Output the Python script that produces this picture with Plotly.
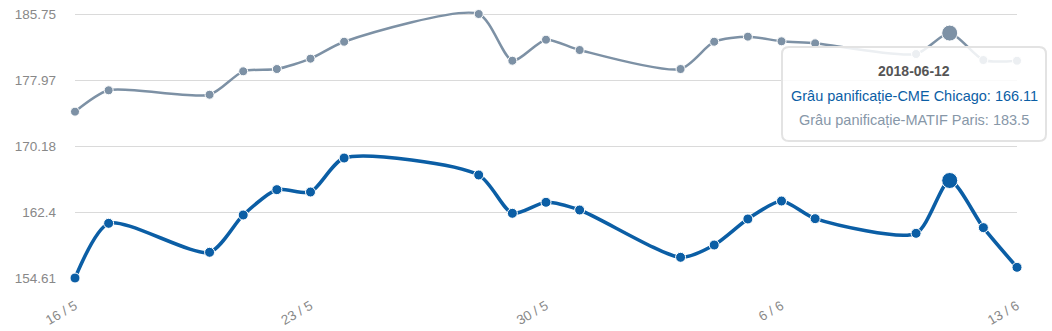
import plotly.graph_objects as go
import numpy as np

# ---- data ----
dates = ["2018-05-16", "2018-05-17", "2018-05-20", "2018-05-21", "2018-05-22",
         "2018-05-23", "2018-05-24", "2018-05-28", "2018-05-29", "2018-05-30",
         "2018-05-31", "2018-06-03", "2018-06-04", "2018-06-05", "2018-06-06",
         "2018-06-07", "2018-06-10", "2018-06-11", "2018-06-12", "2018-06-13"]
cme_chicago = [154.61, 161.06, 157.64, 162.04, 165.03, 164.75, 168.76, 166.76,
               162.24, 163.54, 162.63, 157.05, 158.50, 161.57, 163.69, 161.61,
               159.88, 166.11, 160.55, 155.87]
matif_paris = [174.23, 176.75, 176.23, 178.99, 179.26, 180.48, 182.48, 185.75,
               180.24, 182.72, 181.50, 179.26, 182.48, 183.08, 182.53, 182.29,
               181.03, 183.50, 180.32, 180.24]
series_names = ["Grâu panificație-CME Chicago", "Grâu panificație-MATIF Paris"]
hover_index = 17
hover_date_label = "2018-06-12"

BLUE = "#0b5ea5"
GREY = "#7d91a5"
FONT = "Arial, Liberation Sans, sans-serif"

W, H = 1052, 331
# gridline span (top tick to bottom tick) in pixels
GRID_TOP, GRID_BOTTOM = 14, 278
ML, MR, MT, MB = 75, 35, 0, H - GRID_BOTTOM
PW, PH = W - ML - MR, H - MT - MB

ymin = min(min(cme_chicago), min(matif_paris))
ymax = max(max(cme_chicago), max(matif_paris))
yticks = np.linspace(ymin, ymax, 5)
ytext = [f"{v:.2f}".rstrip("0").rstrip(".") for v in yticks]
ytop = ymax + (GRID_TOP - MT) * (ymax - ymin) / (GRID_BOTTOM - GRID_TOP)

fig = go.Figure()
for vals, col, name, lw, ms in [(matif_paris, GREY, series_names[1], 2.5, 9),
                                (cme_chicago, BLUE, series_names[0], 3.6, 10)]:
    fig.add_trace(go.Scatter(
        x=dates, y=vals, name=name, mode="lines+markers",
        line=dict(color=col, width=lw, shape="spline", smoothing=0.7),
        marker=dict(size=ms, color=col, line=dict(color="white", width=1)),
        cliponaxis=False, showlegend=False))
    fig.add_trace(go.Scatter(
        x=[dates[hover_index]], y=[vals[hover_index]], mode="markers",
        marker=dict(size=16, color=col, line=dict(color="white", width=1)),
        cliponaxis=False, showlegend=False))


def px2paper(x, y):
    return (x - ML) / PW, (H - MB - y) / PH


# tooltip box (rounded rect) in paper coordinates
bx0, by0, bx1, by1, r = 782, 47, 1046, 141, 7
def P(x, y):
    a, b = px2paper(x, y)
    return f"{a:.5f},{b:.5f}"
path = (f"M {P(bx0 + r, by0)} L {P(bx1 - r, by0)} Q {P(bx1, by0)} {P(bx1, by0 + r)} "
        f"L {P(bx1, by1 - r)} Q {P(bx1, by1)} {P(bx1 - r, by1)} "
        f"L {P(bx0 + r, by1)} Q {P(bx0, by1)} {P(bx0, by1 - r)} "
        f"L {P(bx0, by0 + r)} Q {P(bx0, by0)} {P(bx0 + r, by0)} Z")
fig.add_shape(type="path", path=path, xref="paper", yref="paper", layer="above",
              fillcolor="rgba(255,255,255,0.85)",
              line=dict(color="#e3e3e3", width=2))

cx = (bx0 + bx1) / 2
for text, yy, col, bold in [(hover_date_label, 71, "#555555", True),
                            (f"{series_names[0]}: {cme_chicago[hover_index]:g}", 96.5, BLUE, False),
                            (f"{series_names[1]}: {matif_paris[hover_index]:g}", 119.5, "#8797a8", False)]:
    ax, ay = px2paper(cx, yy)
    fig.add_annotation(x=ax, y=ay, xref="paper", yref="paper", showarrow=False,
                       text=f"<b>{text}</b>" if bold else text,
                       font=dict(family=FONT, size=14.5 if not bold else 14, color=col),
                       xanchor="center", yanchor="middle")

fig.update_layout(
    width=W, height=H, margin=dict(l=ML, r=MR, t=MT, b=MB, autoexpand=False),
    paper_bgcolor="white", plot_bgcolor="white",
    font=dict(family=FONT, size=13, color="#888888"),
    hovermode=False,
)
fig.update_xaxes(
    type="date", range=[dates[0], dates[-1]], tick0=dates[0], dtick=7 * 86400000,
    tickformat="%-d / %-m", tickangle=-30, showgrid=False, zeroline=False,
    showline=False, ticks="outside", ticklen=14, tickcolor="rgba(0,0,0,0)",
    automargin=False,
    tickfont=dict(family=FONT, size=13.5, color="#888888"))
fig.update_yaxes(
    range=[ymin, ytop], tickvals=yticks, ticktext=ytext, showgrid=True,
    gridcolor="#dadada", gridwidth=1, zeroline=False, showline=False,
    ticklabelstandoff=18, automargin=False,
    tickfont=dict(family=FONT, size=13.5, color="#888888"))

fig.write_html("out.html")
